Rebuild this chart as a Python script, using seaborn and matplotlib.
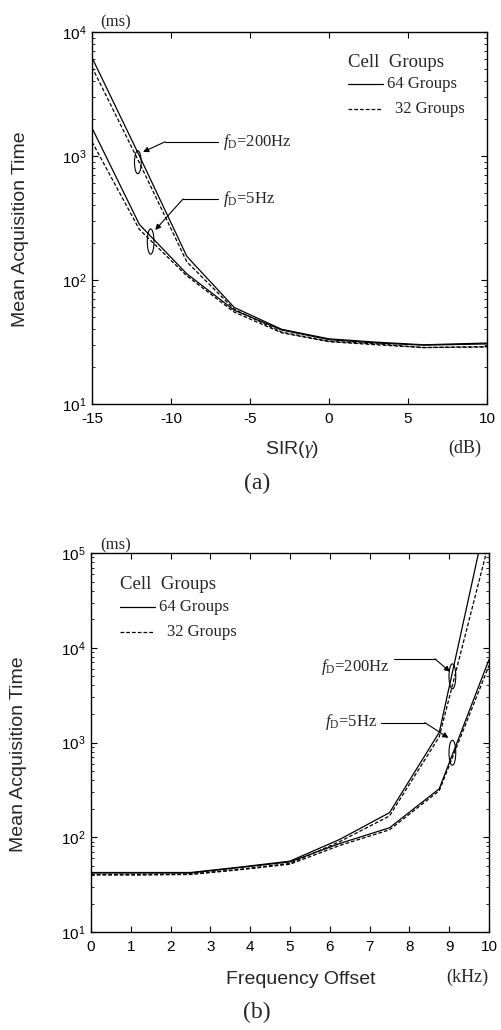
import matplotlib
matplotlib.use('Agg')
import matplotlib.pyplot as plt
from matplotlib.patches import Ellipse
import seaborn as sns
import pandas as pd
import numpy as np

# ---- data ----
sir_db = [-15, -12, -9, -6, -3, 0, 3, 6, 10]
a_200hz_64 = [6200, 1000, 155, 60, 40, 33.5, 31.5, 30, 31]
a_200hz_32 = [5200, 880, 140, 58, 38, 32, 30.5, 28.5, 29]
a_5hz_64 = [1680, 280, 112, 57, 39.5, 33, 31, 29.8, 30.5]
a_5hz_32 = [1300, 255, 108, 55, 37.5, 31.8, 30, 28.5, 28.8]

freq_khz = [0, 1.25, 2.5, 3.75, 5, 6.25, 7.5, 8.75, 10]
b_200hz_64 = [42.5, 42.5, 42.5, 48.5, 56, 95, 182, 1280, 3.2e5]
b_200hz_32 = [40.5, 40.5, 41, 46, 53, 90, 168, 1150, 1.3e5]
b_5hz_64 = [42, 42, 42, 48, 55, 86, 126, 325, 7500]
b_5hz_32 = [40, 40, 40.5, 45.5, 52, 82, 120, 310, 6500]

groups = ['64 Groups', '32 Groups']


def long_frame(x, series):
    rows = []
    for (fd, grp), vals in series.items():
        for xv, yv in zip(x, vals):
            rows.append({'x': xv, 'time': yv, 'fD': fd, 'group': grp})
    return pd.DataFrame(rows)


df_a = long_frame(sir_db, {('200Hz', '64 Groups'): a_200hz_64,
                           ('200Hz', '32 Groups'): a_200hz_32,
                           ('5Hz', '64 Groups'): a_5hz_64,
                           ('5Hz', '32 Groups'): a_5hz_32})
df_b = long_frame(freq_khz, {('200Hz', '64 Groups'): b_200hz_64,
                             ('200Hz', '32 Groups'): b_200hz_32,
                             ('5Hz', '64 Groups'): b_5hz_64,
                             ('5Hz', '32 Groups'): b_5hz_32})

sns.set_theme(style='ticks')
plt.rcParams['font.family'] = ['Liberation Sans', 'DejaVu Sans']
plt.rcParams['mathtext.fontset'] = 'custom'
plt.rcParams['mathtext.rm'] = 'Liberation Serif'
plt.rcParams['mathtext.it'] = 'Liberation Serif:italic'
plt.rcParams['axes.linewidth'] = 1.0

SERIF = ['Liberation Serif', 'DejaVu Serif']
DASHES = {'64 Groups': '', '32 Groups': (3, 1.6)}

fig = plt.figure(figsize=(5.02, 10.30), dpi=100)
ax1 = fig.add_axes([0.1833, 0.6078, 0.787, 0.3612])
ax2 = fig.add_axes([0.1813, 0.0951, 0.7928, 0.368])


def draw_panel(ax, df, xlim, ylim, xticks):
    sns.lineplot(data=df, x='x', y='time', units='fD', estimator=None,
                 style='group', style_order=groups, dashes=DASHES,
                 color='black', lw=0.9, legend=False, ax=ax)
    ax.set_yscale('log')
    ax.set_xlim(*xlim)
    ax.set_ylim(*ylim)
    ax.set_xticks(xticks)
    ax.set_xticklabels([str(t) for t in xticks])
    ax.set_xlabel('')
    ax.set_ylabel('Mean Acquisition Time', fontsize=14)
    ax.tick_params(which='both', direction='in', top=True, right=True,
                   colors='black', labelsize=11)
    ax.tick_params(which='major', length=4, width=0.8, pad=4)
    ax.tick_params(axis='x', which='major', pad=6)
    ax.tick_params(which='minor', length=2, width=0.6)
    ax.tick_params(axis='x', which='minor', bottom=False, top=False)
    for s in ax.spines.values():
        s.set_color('black')


def legend_block(ax, x0, y0, x_text32):
    ax.text(x0, y0, 'Cell  Groups', transform=ax.transAxes, family=SERIF,
            fontsize=13.5, va='center', ha='left')
    ax.plot([x0, x0 + 0.088], [y0 - 0.058] * 2, color='black', lw=0.9,
            transform=ax.transAxes)
    ax.text(x0 + 0.098, y0 - 0.058, '64 Groups', transform=ax.transAxes,
            family=SERIF, fontsize=12, va='center', ha='left')
    ax.plot([x0, x0 + 0.085], [y0 - 0.125] * 2, color='black', lw=0.9,
            ls=(0, (3, 1.6)), transform=ax.transAxes)
    ax.text(x_text32, y0 - 0.125, '32 Groups', transform=ax.transAxes,
            family=SERIF, fontsize=12, va='center', ha='left')


def callout(ax, label, text_xy, ha, line_x2, line_y, tip, ell_xy, ell_h):
    ax.text(text_xy[0], text_xy[1], label, family=SERIF, fontsize=12,
            ha=ha, va='center')
    ax.plot([text_xy[0] + (-0.3 if ha == 'left' else 0.1), line_x2],
            [line_y, line_y], color='black', lw=0.8)
    ax.annotate('', xy=tip, xytext=(line_x2, line_y),
                arrowprops=dict(arrowstyle='-|>', color='black', lw=0.8,
                                mutation_scale=8, shrinkA=0, shrinkB=0))
    to_axes = ax.transData + ax.transAxes.inverted()
    cx, cy = to_axes.transform(ell_xy)
    ax.add_patch(Ellipse((cx, cy), 0.017, ell_h, transform=ax.transAxes,
                         fill=False, edgecolor='black', lw=0.8))


# ---- panel (a) ----
draw_panel(ax1, df_a, (-15, 10), (10, 1e4), [-15, -10, -5, 0, 5, 10])
ax1.yaxis.set_label_coords(-0.16, 0.47)
legend_block(ax1, 0.648, 0.917, 0.767)
callout(ax1, r'$f_{\rm D}$=200Hz', (-6.71, 1300), 'left', -10.38, 1300,
        (-11.77, 1077), (-12.1, 890), 0.062)
callout(ax1, r'$f_{\rm D}$=5Hz', (-6.71, 450), 'left', -9.24, 450,
        (-11.0, 253), (-11.29, 204), 0.068)

# ---- panel (b) ----
draw_panel(ax2, df_b, (0, 10), (10, 1e5), list(range(0, 11)))
ax2.yaxis.set_label_coords(-0.16, 0.47)
legend_block(ax2, 0.073, 0.916, 0.191)
callout(ax2, r'$f_{\rm D}$=200Hz', (7.51, 6300), 'right', 8.64, 7650,
        (9.02, 5590), (9.08, 4990), 0.066)
callout(ax2, r'$f_{\rm D}$=5Hz', (7.19, 1660), 'right', 8.39, 1620,
        (8.98, 1120), (9.08, 780), 0.066)

# ---- outer labels ----
fig.text(100 / 502, 1 - 22 / 1030, '(ms)', family=SERIF, fontsize=12,
         ha='left', va='center')
fig.text(100 / 502, 1 - 545 / 1030, '(ms)', family=SERIF, fontsize=12,
         ha='left', va='center')
fig.text(292 / 502, 1 - 450 / 1030, r'SIR($\gamma$)', fontsize=14,
         ha='center', va='center')
fig.text(465 / 502, 1 - 448 / 1030, '(dB)', family=SERIF, fontsize=13,
         ha='center', va='center')
fig.text(257 / 502, 1 - 483 / 1030, '(a)', family=SERIF, fontsize=17,
         ha='center', va='center')
fig.text(301 / 502, 1 - 980 / 1030, 'Frequency Offset', fontsize=14,
         ha='center', va='center')
fig.text(467 / 502, 1 - 977 / 1030, '(kHz)', family=SERIF, fontsize=13,
         ha='center', va='center')
fig.text(257 / 502, 1 - 1012 / 1030, '(b)', family=SERIF, fontsize=17,
         ha='center', va='center')

fig.savefig('out.png', dpi=100, facecolor='white')
